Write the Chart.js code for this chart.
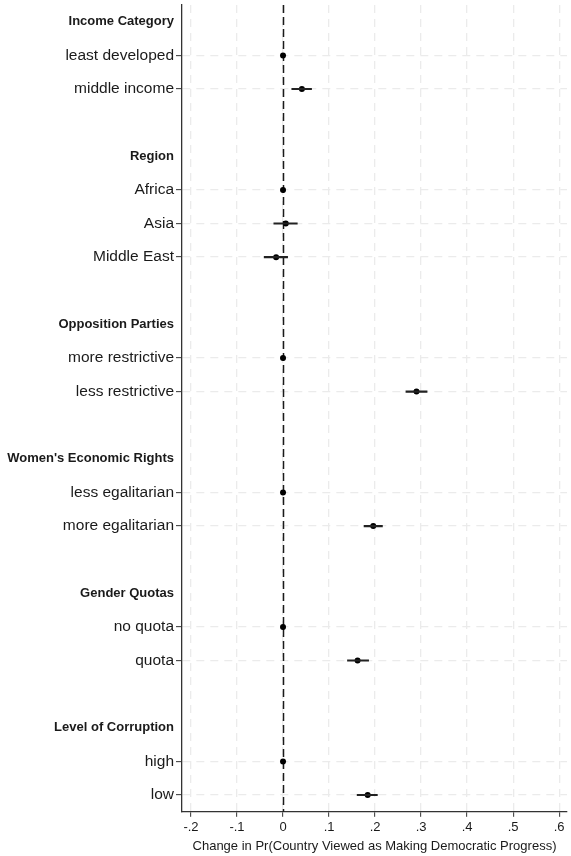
<!DOCTYPE html>
<html>
<head>
<meta charset="utf-8">
<script src="https://cdn.jsdelivr.net/npm/chart.js@4"></script>
<style>
  html, body { margin: 0; padding: 0; background: #fff; }
  #wrap { width: 571px; height: 856px; }
</style>
</head>
<body>
<div id="wrap"><canvas id="marginsChart"></canvas></div>
<script>
// Groups and their categories (first category of each group is the reference)
const groupNames = ['Income Category', 'Region', 'Opposition Parties', "Women's Economic Rights", 'Gender Quotas', 'Level of Corruption'];
const groupItems = [
    ['least developed', 'middle income'],
    ['Africa', 'Asia', 'Middle East'],
    ['more restrictive', 'less restrictive'],
    ['less egalitarian', 'more egalitarian'],
    ['no quota', 'quota'],
    ['high', 'low']
];

// Point estimates and 95% bounds, in the same order as the items above
const estimates = [0, 0.041, 0, 0.006, -0.015, 0, 0.290, 0, 0.196, 0, 0.162, 0, 0.184];
const lowerBounds = [0, 0.019, 0, -0.020, -0.041, 0, 0.267, 0, 0.176, 0, 0.140, 0, 0.161];
const upperBounds = [0, 0.062, 0, 0.031, 0.010, 0, 0.313, 0, 0.216, 0, 0.186, 0, 0.205];

const xTicks = [-0.2, -0.1, 0, 0.1, 0.2, 0.3, 0.4, 0.5, 0.6];

// Build the row labels: header, items, spacer
const rowLabels = [];
const headerRows = new Set();
const itemRows = new Set();
const pointData = [];
const ciData = [];
let k = 0;
groupNames.forEach((name, g) => {
    headerRows.add(rowLabels.length);
    rowLabels.push(name);
    pointData.push(null);
    ciData.push(null);
    groupItems[g].forEach(item => {
        itemRows.add(rowLabels.length);
        rowLabels.push(item);
        pointData.push(estimates[k]);
        ciData.push(lowerBounds[k] === upperBounds[k] ? null : [lowerBounds[k], upperBounds[k]]);
        k++;
    });
    if (g < groupNames.length - 1) {
        rowLabels.push('');
        pointData.push(null);
        ciData.push(null);
    }
});

const fontFamily = 'Liberation Sans, Arial, Helvetica, sans-serif';
const textColor = '#1a1a1a';
const gridColor = '#ebebeb';

// Dashed reference line at zero
const zeroLine = {
    id: 'zeroLine',
    beforeDatasetsDraw(chart) {
        const xs = chart.scales.x;
        const area = chart.chartArea;
        const px = Math.round(xs.getPixelForValue(0)) + 0.5;
        const ctx = chart.ctx;
        ctx.save();
        ctx.strokeStyle = '#1a1a1a';
        ctx.lineWidth = 1.5;
        ctx.setLineDash([8, 4]);
        ctx.beginPath();
        ctx.moveTo(px, area.top);
        ctx.lineTo(px, area.bottom);
        ctx.stroke();
        ctx.restore();
    }
};

const ctx = document.getElementById('marginsChart').getContext('2d');
new Chart(ctx, {
    type: 'bar',
    data: {
        labels: rowLabels,
        datasets: [
            {
                type: 'bar',
                data: ciData,
                backgroundColor: '#222',
                borderWidth: 0,
                barThickness: 1.5
            },
            {
                type: 'line',
                data: pointData,
                showLine: false,
                pointRadius: 3,
                pointBackgroundColor: '#000',
                pointBorderWidth: 0
            }
        ]
    },
    plugins: [zeroLine],
    options: {
        indexAxis: 'y',
        responsive: true,
        maintainAspectRatio: false,
        animation: false,
        layout: { padding: { top: 5, right: 2, bottom: 0, left: 0 } },
        plugins: {
            legend: { display: false },
            tooltip: { enabled: false }
        },
        scales: {
            x: {
                type: 'linear',
                min: -0.2195,
                max: 0.617,
                afterBuildTicks: scale => {
                    scale.ticks = xTicks.map(v => ({ value: v }));
                },
                afterFit: scale => {
                    scale.paddingLeft = 0;
                    scale.paddingRight = 0;
                },
                ticks: {
                    color: textColor,
                    font: { family: fontFamily, size: 13 },
                    padding: 3,
                    maxRotation: 0,
                    callback: v => v === 0 ? '0' : v.toFixed(1).replace('0.', '.')
                },
                grid: {
                    color: gridColor,
                    lineWidth: 1.3,
                    tickColor: '#333',
                    tickLength: 5,
                    tickWidth: 1
                },
                border: { color: '#333', width: 1.3, dash: [8, 6] },
                title: {
                    display: true,
                    text: 'Change in Pr(Country Viewed as Making Democratic Progress)',
                    color: textColor,
                    font: { family: fontFamily, size: 13 },
                    padding: { top: 0, bottom: 2 }
                }
            },
            y: {
                type: 'category',
                offset: true,
                afterFit: scale => {
                    scale.width = 182;
                    scale.paddingTop = 0;
                    scale.paddingBottom = 0;
                },
                ticks: {
                    autoSkip: false,
                    color: textColor,
                    padding: 2,
                    font: c => headerRows.has(c.index)
                        ? { family: fontFamily, size: 13, weight: 'bold' }
                        : { family: fontFamily, size: 15.5 }
                },
                grid: {
                    offset: false,
                    tickLength: 6,
                    lineWidth: 1.3,
                    color: c => itemRows.has(c.index) ? gridColor : 'rgba(0,0,0,0)',
                    tickColor: c => itemRows.has(c.index) ? '#333' : 'rgba(0,0,0,0)',
                    tickWidth: 1
                },
                border: { color: '#333', width: 1.3, dash: [8, 6] }
            }
        }
    }
});
</script>
</body>
</html>
